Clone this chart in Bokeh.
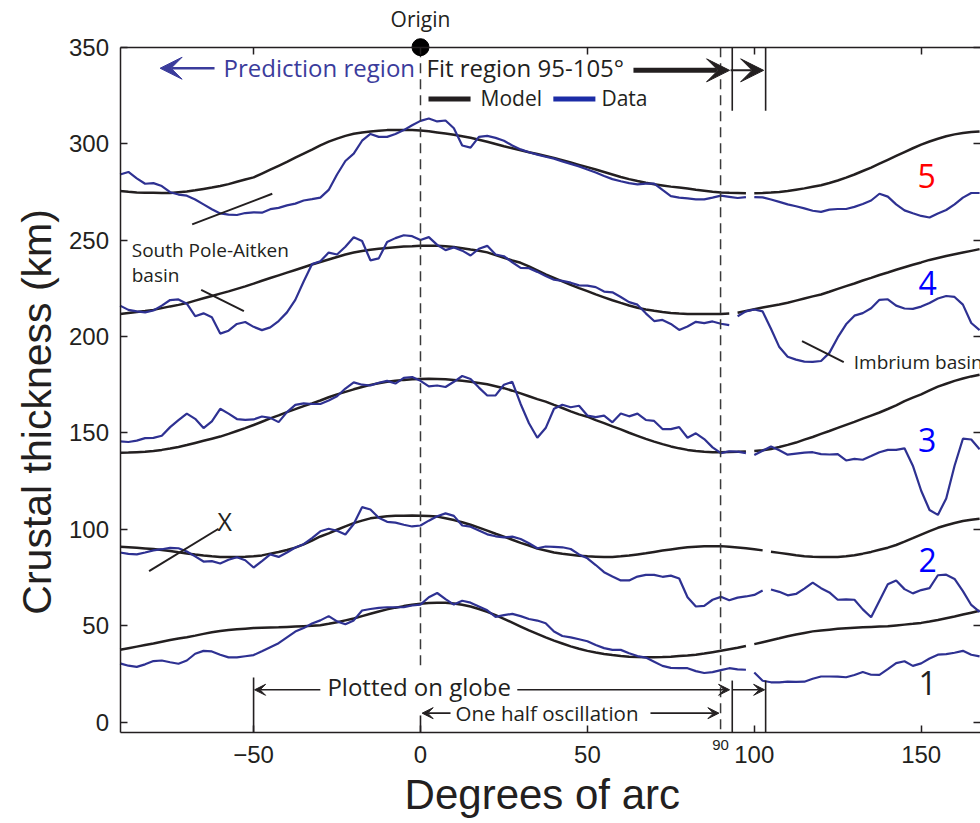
import numpy as np
from bokeh.plotting import figure
from bokeh.models import Label, Arrow, VeeHead, LinearAxis, FixedTicker, Range1d
from bokeh.embed import file_html
from bokeh.resources import INLINE

# ---------------- data ----------------
X_DEG = list(np.arange(-90.0, 168.0, 2.5))   # sample positions, degrees of arc

# gap in each profile (line broken just after this x)
GAP_AFTER = {"1": 97.5, "2": 102.5, "3": 97.5, "4": 92.5, "5": 97.5}

DATA_5 = [284, 285.3, 282, 279.2, 279.5, 278, 274.8, 273.6, 273, 271, 268.5, 266, 263.8, 263.2, 263, 264, 264.4, 264.2,
          266, 266.7, 268, 268.9, 270.5, 271.2, 272, 276, 284, 291, 294.8, 301.5, 305, 303.5, 303.5, 305, 307, 309.5,
          311.8, 313, 311.5, 312, 308, 299, 297.9, 303.5, 304, 303, 301.5, 299, 297, 295.5, 294.3, 293.2, 292.2, 290.8,
          289.5, 288.2, 286.6, 285, 283.2, 281.6, 280.5, 279.5, 278.9, 279.3, 279.3, 276, 272.8, 272, 271.6, 271.1,
          271.1, 272, 273, 272.4, 271.8, 272.3,
          272.3, 272.1, 271, 269.8, 268.5, 267.5, 266.4, 265.2, 264.6, 265.8, 266.1, 266.1, 267.2, 268.7, 270.5, 274,
          272.5, 268.5, 265.4, 263.9, 262.5, 261.7, 263.8, 265.6, 268.5, 272, 274.4, 274.4]
MODEL_5 = [275.4, 275, 274.7, 274.5, 274.5, 274.4, 274.4, 274.8, 275.2, 275.8, 276.5, 277.2, 278, 279, 280.2, 281.4,
           282.5, 284.5, 286.5, 288.5, 290.5, 292.7, 294.8, 296.9, 299.1, 301, 302.6, 304, 305.1, 305.8, 306.3, 306.7,
           307, 307.1, 307.1, 307,
           306.8, 306.4, 305.8, 305.2, 304.6, 303.8, 303, 302, 301, 299.8, 298.6, 297.6, 296.6, 295.5, 294.6, 293.6,
           292.6, 291.4, 290.2, 289, 287.8, 286.6, 285.3, 284, 282.7, 281.6, 280.6, 279.7, 278.9, 278.3, 277.7, 277.2,
           276.7, 276.1, 275.6, 275.1, 274.7, 274.5, 274.4, 274.3,
           274.3, 274.4, 274.6, 274.9, 275.4, 276.1, 276.8, 277.6, 278.4, 279.6, 280.9, 282.4, 284, 285.8, 287.6, 289.6,
           291.6, 293.6, 295.6, 297.6, 299.5, 301.1, 302.5, 303.8, 304.8, 305.5, 306, 306.3]

DATA_4 = [216, 213.8, 213, 212.5, 213.5, 216, 218.9, 219.2, 217, 210.5, 212, 210, 201.5, 203, 206.5, 207.5, 205, 203.3,
          204.7, 208, 212.5, 219, 228.5, 237.5, 239, 243.5, 242.5, 246.5, 251.5, 249.5, 239.5, 240.5, 249, 251, 252.5, 252,
          250, 251.5, 247.5, 244.8, 246.2, 244.5, 242, 245.5, 247, 242.5, 241.6, 238.5, 235.6, 235.4, 233.5, 231.4,
          229.4, 228.8, 227.9, 226.5, 226.4, 225.6, 223.3, 222.9, 220.5, 217.8, 216.5, 212, 208, 208.6, 206.5, 203.4,
          205.2, 207.6, 206.9, 207.8, 206.6, 205.9, 210.5, 213,
          214, 213, 204, 194.5, 189.5, 188, 187, 186.8, 187.3, 191.5, 199.5, 206.3, 210.8, 212.1, 214.6, 219, 219.3,
          216, 214.5, 214.3, 215.5, 217.4, 219.7, 221, 220.5, 216.5, 207, 203.3]
MODEL_4 = [211.7, 212.2, 212.7, 213.2, 213.8, 214.7, 215.6, 216.4, 217.3, 218.6, 219.8, 221, 222.2, 223.4, 224.7, 226,
           227.4, 228.9, 230.3, 231.7, 233.1, 234.5, 235.9, 237.3, 238.6, 239.9, 241.2, 242.5, 243.5, 244.3, 245, 245.5,
           245.9, 246.3, 246.6, 246.8,
           247.1, 247.1, 247, 246.8, 246.4, 245.8, 245.1, 244.5, 243.6, 242.2, 240.8, 239.4, 238.2, 236.3, 234.3, 232.2,
           230.4, 228.6, 226.8, 225.1, 223.5, 221.8, 220.3, 218.8, 217.4, 216.1, 214.9, 214, 213.3, 212.7, 212.2, 211.9,
           211.7, 211.6, 211.6, 211.6, 211.7, 211.9, 212.3, 213.2,
           214.1, 215, 215.8, 216.6, 217.5, 218.6, 219.7, 220.8, 221.8, 223.2, 224.7, 226.1, 227.5, 229, 230.4, 231.9,
           233.2, 234.6, 235.9, 237.2, 238.4, 239.7, 240.7, 241.7, 242.6, 243.5, 244.4, 245.3]

DATA_3 = [145.6, 145.3, 146, 147.3, 147.4, 148.5, 153, 156.6, 160, 157.3, 152.5, 156, 162.5, 160, 157.2, 156.8, 157, 158.5,
          157.8, 155.6, 160.8, 164.5, 165.3, 165, 165, 166.8, 169, 173, 176.2, 175, 174.6, 176, 177, 175.6, 178.5, 179,
          177, 174.1, 174.6, 173.8, 176.5, 179.5, 178, 173.5, 169.4, 169.5, 175, 176.5, 165, 155, 147.5, 152.5, 162.5,
          164.6, 163.3, 164.1, 159, 158.2, 159, 155.5, 160.1, 158.6, 160, 156.7, 156.2, 152, 152, 153, 147.5, 149.8,
          146.8, 142.5, 139.5, 140.5, 140.3, 139.5,
          138.5, 140.8, 142.9, 141, 138.7, 139.3, 139.8, 140, 139, 138.8, 139, 135.7, 136.5, 136.1, 138, 140, 141.2,
          141.2, 142, 133, 120, 110, 107.5, 116, 133, 147, 146.6, 141.5]
MODEL_3 = [139.7, 139.8, 140, 140.2, 140.6, 141.2, 141.9, 142.7, 143.7, 144.8, 145.9, 147, 148.1, 149.5, 151, 152.5,
           154.1, 155.8, 157.5, 159.1, 160.8, 162.3, 163.9, 165.3, 166.8, 168.5, 170, 171.3, 172.6, 173.8, 174.9, 175.8,
           176.5, 177.1, 177.5, 177.8,
           178, 178.1, 178, 177.8, 177.4, 177, 176.5, 175.9, 175.2, 174.2, 173.2, 171.9, 170.5, 169, 167.5, 166.2,
           164.5, 162.9, 161.2, 159.6, 158.4, 156.6, 155.1, 153.4, 151.8, 150.1, 148.5, 146.9, 145.5, 144.2, 143, 142,
           141.2, 140.6, 140.2, 140, 140, 140.1, 140.2, 140.4,
           140.6, 141, 141.7, 142.7, 143.8, 145, 146.5, 147.9, 149.5, 151, 152.6, 154.2, 155.7, 157.4, 159, 160.6,
           162.4, 164.3, 166.5, 168.3, 170, 172, 174, 175.5, 177, 178.2, 179.3, 180.2]

DATA_2 = [88, 87.3, 87, 88, 89.1, 89.7, 90.4, 90.2, 88.5, 86, 83.3, 83.5, 82.3, 84.2, 85.5, 84, 80.2, 83.5, 87, 85.7,
          88, 90.6, 92.3, 95.5, 99, 100.3, 99.3, 97.3, 102.8, 111.5, 110.3, 106, 103.9, 103.5, 102.4, 101.5,
          102, 104.5, 106.8, 108.3, 107, 102, 101.4, 99.4, 97.4, 96.4, 95.8, 96.2, 95, 92.8, 90.2, 91.1, 90.9, 90.7,
          89.8, 87, 85, 81.5, 77.8, 75.6, 73.5, 73.5, 75.5, 76.4, 76.4, 75.4, 76, 74.5, 64.8, 60, 60.3, 63.5, 65, 63.2,
          64.6, 65.2,
          66, 68.3, 68.8, 67.6, 65.8, 66.5, 69.3, 72.4, 69.5, 67.3, 63.5, 63.7, 63.5, 58.5, 54.4, 63, 71.5, 73.5, 69,
          66.8, 68.5, 69.5, 76.2, 76.5, 74.3, 68, 60.8, 57.2]
MODEL_2 = [91, 90.7, 90.4, 90.1, 89.8, 89.3, 88.8, 88.1, 87.5, 86.9, 86.4, 86, 85.7, 85.6, 85.7, 85.8, 86, 86.5, 87.4,
           88.3, 89.3, 90.5, 92.2, 94.2, 96.3, 97.9, 99.8, 101.5, 103.2, 104.5, 105.7, 106.3, 106.8, 107, 107.1, 107.2,
           107.1, 106.9, 106.6, 105.8, 104.8, 103.7, 102.4, 100.9, 99.3, 97.7, 96.2, 94.6, 93, 91.6, 90, 89, 88, 87.3,
           86.8, 86.3, 86, 85.8, 85.6, 85.7, 86, 86.4, 87, 87.6, 88.3, 89, 89.6, 90.2, 90.7, 91, 91.2, 91.3, 91.3, 91,
           90.6, 90.2,
           89.7, 89.1, 88.4, 87.8, 87.2, 86.6, 86.1, 85.8, 85.6, 85.6, 85.7, 86, 86.6, 87.4, 88.3, 89.4, 90.5, 91.9,
           93.6, 95.4, 97.3, 99.1, 100.8, 102.1, 103.3, 104.3, 105, 105.5]

DATA_1 = [30.5, 29.3, 28.7, 30, 31.7, 32, 31.1, 30.3, 32, 35.5, 37, 36.7, 35, 33.6, 33.6, 34.2, 34.8, 36.8, 38.9, 41,
          44, 47, 48.8, 51.2, 52.8, 55, 52.3, 50.8, 52.8, 57.9, 58.7, 59.3, 59.6, 59.6, 59.7, 60.5,
          61, 64.8, 67, 63.8, 61, 63, 62, 60, 58, 54.6, 55.5, 56.2, 55, 53.5, 52.7, 51.3, 47, 44.7, 44, 43, 42, 40,
          38.4, 37.5, 37.5, 35.8, 34.3, 33.5, 31.4, 29.2, 28.2, 28, 28, 26.5, 25.5, 26, 27, 28, 27.4, 27.2,
          25.8, 21.5, 20.7, 20.7, 21, 20.9, 21, 22.5, 23.7, 23.7, 23.6, 23.3, 24.5, 26, 24.6, 24.5, 27.5, 30.6, 31.6,
          29.2, 30.5, 33, 35, 35.3, 36, 37, 35, 34.1]
MODEL_1 = [37.6, 38.4, 39.2, 40, 40.8, 41.7, 42.6, 43.4, 44.1, 44.9, 45.8, 46.6, 47.3, 47.8, 48.2, 48.5, 48.8, 49, 49.1,
           49.2, 49.4, 49.6, 49.8, 50, 50.3, 51, 51.8, 52.8, 53.8, 55, 56.2, 57.4, 58.5, 59.4, 60.2, 60.9,
           61.4, 61.8, 62, 62, 61.6, 60.9, 60, 58.7, 57.2, 55.5, 53.6, 51.6, 49.6, 47.6, 45.8, 44, 42.3, 40.8, 39.3,
           38.1, 37, 36.1, 35.4, 34.8, 34.3, 34, 33.8, 33.7, 33.7, 33.8, 34, 34.3, 34.6, 35, 35.6, 36.3, 37, 37.8,
           38.6, 39.5,
           40.5, 41.5, 42.5, 43.5, 44.6, 45.5, 46.3, 47.1, 47.6, 48, 48.4, 48.7, 49, 49.2, 49.4, 49.6, 49.8, 50.2,
           50.6, 51, 51.5, 52.2, 53, 53.9, 54.8, 55.8, 56.8, 57.8]

PROFILES = {"1": (MODEL_1, DATA_1), "2": (MODEL_2, DATA_2), "3": (MODEL_3, DATA_3),
            "4": (MODEL_4, DATA_4), "5": (MODEL_5, DATA_5)}

X_TICKS = [-50, 0, 50, 100, 150]
Y_TICKS = [0, 50, 100, 150, 200, 250, 300, 350]
X_BOX = (-90, 167.8)     # plotted x extent (axis box)
Y_BOX = (-5.2, 350)      # plotted y extent (axis box)

# ---------------- styles ----------------
INK = "#231f20"
BLUE_LINE = "#2e3192"
BLUE_TEXT = "#3b3c9c"
PX_PER_X = 3.338     # screen px per degree (for text nudges only)
PX_PER_Y = 1.9286    # screen px per km (for text nudges only)

# the frame covers the whole canvas; the axes are pinned at the box edges
p = figure(width=980, height=823, x_range=Range1d(-125.82, 167.77), y_range=Range1d(-52.52, 374.21),
           output_backend="svg", toolbar_location=None, title=None,
           x_axis_location=None, y_axis_location=None, min_border=0)
p.outline_line_color = None
p.grid.visible = False
p.background_fill_color = "white"
p.border_fill_color = "white"


def make_axis(ticks, loc, bounds, labels=True, line=True):
    ax = LinearAxis(ticker=FixedTicker(ticks=ticks), fixed_location=loc, bounds=bounds,
                    major_tick_in=7, major_tick_out=0, minor_tick_line_color=None,
                    axis_line_width=1.5, axis_line_color=INK if line else None,
                    major_tick_line_color=INK, major_tick_line_width=1.5,
                    major_label_text_font="Liberation Sans", major_label_text_font_size="24px",
                    major_label_text_color=INK if labels else None)
    return ax


left_ax = make_axis(Y_TICKS, X_BOX[0], Y_BOX)
left_ax.major_label_standoff = 11
p.add_layout(left_ax, "left")
bottom_ax = make_axis(X_TICKS, Y_BOX[0], X_BOX)
bottom_ax.major_label_standoff = 14
p.add_layout(bottom_ax, "below")
p.add_layout(make_axis(X_TICKS, Y_BOX[1], X_BOX, labels=False), "above")
p.add_layout(make_axis(Y_TICKS, X_BOX[1], Y_BOX, labels=False, line=False), "right")

# ---------------- profiles ----------------
xs = np.array(X_DEG)
for key, (model, data) in PROFILES.items():
    m = np.array(model, dtype=float)
    d = np.array(data, dtype=float)
    g = GAP_AFTER[key]
    for sel in (xs <= g, xs > g):
        p.line(xs[sel], m[sel], line_color=INK, line_width=2.5)
        p.line(xs[sel], d[sel], line_color=BLUE_LINE, line_width=2.2)

# ---------------- guide lines ----------------
p.segment(x0=[0, 89.9], y0=[350, 350], x1=[0, 89.9], y1=[28.4, -5.2],
          line_color="#3a3a3a", line_width=1.5, line_dash="10 6")
p.segment(x0=[-50, 93.4, 103.4, 0, 93.4, 103.4], y0=[23.2, 21.6, 21.6, 3.5, 350, 350],
          x1=[-50, 93.4, 103.4, 0, 93.4, 103.4], y1=[-5.2, -5.2, -5.2, -5.2, 317.1, 317.1],
          line_color=INK, line_width=1.6)
# pointer lines for basins and X
p.segment(x0=[-68.4, -65.7, 114.3, -81.3], y0=[258.1, 224.2, 197.6, 78.3],
          x1=[-44.4, -52.9, 126.8, -60.5], y1=[274.0, 213.1, 186.7, 100.3],
          line_color=INK, line_width=2)
# legend samples
p.segment(x0=[2.4], y0=[323.2], x1=[15.0], y1=[323.2], line_color=INK, line_width=5)
p.segment(x0=[39.8], y0=[323.2], x1=[52.4], y1=[323.2], line_color="#1c2ca6", line_width=5)

# origin marker
p.scatter(x=[0], y=[350], size=17, marker="circle", fill_color="black", line_color="black")


def lab(x, y, text, size, color=INK, font="Open Sans", align="left", angle=0.0):
    # x, y give the text baseline position; the nudge compensates the renderer's baseline offset
    nudge = 0.39 * size
    if angle:
        x = x - nudge / PX_PER_X
    else:
        y = y + nudge / PX_PER_Y
    p.add_layout(Label(x=x, y=y, text=text, text_font=font, text_font_size=f"{size}px",
                       text_color=color, text_align=align, text_baseline="alphabetic", angle=angle))


# ---------------- arrows ----------------
def arrow(x0, y0, x1, y1, color, lw, head):
    p.add_layout(Arrow(x_start=x0, y_start=y0, x_end=x1, y_end=y1, line_color=color, line_width=lw,
                       end=VeeHead(size=head, fill_color=color, line_color=color, line_width=1)))


arrow(-61.7, 339.1, -78.0, 339.1, BLUE_TEXT, 2.5, 22)
arrow(63.8, 338.0, 92.6, 338.0, INK, 5, 23)
arrow(92.9, 338.0, 102.8, 338.0, INK, 2, 23)
arrow(-30.0, 16.8, -49.7, 16.8, INK, 1.6, 11)
arrow(29.0, 16.8, 92.6, 16.8, INK, 1.6, 11)
arrow(93.4, 16.8, 103.1, 16.8, INK, 1.6, 11)
arrow(9.0, 4.7, 0.5, 4.7, INK, 1.6, 11)
arrow(68.9, 4.7, 89.4, 4.7, INK, 1.6, 11)

# ---------------- texts ----------------
lab(0, 360.2, "Origin", 21, align="center")
lab(-59.0, 334.8, "Prediction region", 24, color=BLUE_TEXT)
lab(1.8, 334.8, "Fit region 95-105\u00b0", 24)
lab(18.0, 319.2, "Model", 21)
lab(54.2, 319.2, "Data", 21)
lab(-0.4, 13.8, "Plotted on globe", 24, align="center")
lab(10.5, 0.5, "One half oscillation", 20.5)
lab(89.9, -14.7, "90", 15, font="Liberation Sans", align="center")
lab(-86.5, 241.1, "South Pole-Aitken", 19)
lab(-86.5, 228.1, "basin", 19)
lab(129.8, 182.7, "Imbrium basin", 19)
lab(-60.8, 99.4, "X", 25)
lab(151.6, 276.7, "5", 32, color="#ff0000", align="center")
lab(151.9, 221.2, "4", 32, color="#0000ff", align="center")
lab(151.8, 139.8, "3", 32, color="#0000ff", align="center")
lab(151.9, 77.6, "2", 32, color="#0000ff", align="center")
lab(151.9, 13.8, "1", 32, color=INK, align="center")
lab(36.5, -45.8, "Degrees of arc", 42, font="Liberation Sans", align="center")
lab(-110.2, 160.9, "Crustal thickness (km)", 41, font="Liberation Sans", align="center", angle=np.pi / 2)

open("out.html", "w").write(file_html(p, INLINE))
